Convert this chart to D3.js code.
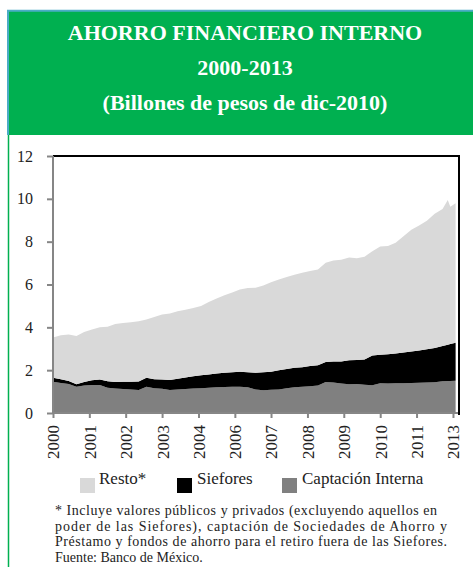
<!DOCTYPE html>
<html>
<head>
<meta charset="utf-8">
<title>Ahorro Financiero Interno</title>
<script src="https://d3js.org/d3.v7.min.js"></script>
<style>
body {
	margin: 0;
	background-color: white;
}
svg {
	display: block;
}
svg text {
	font-family: "Liberation Serif", "DejaVu Serif", serif !important;
}
.title {
	fill: white;
	font-weight: bold;
	font-size: 22px;
}
.axis text {
	font-size: 16px;
	fill: #222;
}
.axis path, .axis line {
	stroke: #868686;
	stroke-width: 2;
}
.legend {
	font-size: 17px;
	fill: #222;
}
.note {
	font-size: 14px;
	fill: #222;
}
</style>
</head>
<body>
<div id="graph"></div>
<script>
/* globals d3 */
(function() {
"use strict";

const titleLines = ["AHORRO FINANCIERO INTERNO", "2000-2013", "(Billones de pesos de dic-2010)"];

// fechas de lectura (aaaa-mm)
const months = [
	"2000-03", "2000-06", "2000-09", "2000-12", "2001-03", "2001-06", "2001-09", "2001-12", "2002-03", "2002-06",
	"2002-09", "2002-12", "2003-03", "2003-06", "2003-09", "2003-12", "2004-03", "2004-06", "2004-09", "2004-12",
	"2005-03", "2005-06", "2005-09", "2005-12", "2006-03", "2006-06", "2006-09", "2006-12", "2007-03", "2007-06",
	"2007-09", "2007-12", "2008-03", "2008-06", "2008-09", "2008-12", "2009-03", "2009-06", "2009-09", "2009-12",
	"2010-03", "2010-06", "2010-09", "2010-12", "2011-03", "2011-06", "2011-09", "2011-12", "2012-03", "2012-06",
	"2012-09", "2012-11", "2012-12", "2013-02"
];
const captacion = [
	1.46, 1.40, 1.35, 1.23, 1.28, 1.31, 1.31, 1.18, 1.14, 1.12,
	1.10, 1.07, 1.22, 1.15, 1.13, 1.07, 1.10, 1.12, 1.14, 1.16,
	1.18, 1.20, 1.21, 1.22, 1.23, 1.20, 1.10, 1.06, 1.08, 1.10,
	1.15, 1.20, 1.23, 1.25, 1.28, 1.45, 1.42, 1.38, 1.34, 1.35,
	1.32, 1.30, 1.39, 1.38, 1.39, 1.39, 1.40, 1.41, 1.42, 1.44,
	1.48, 1.49, 1.50, 1.51
];
const siefores = [
	0.19, 0.18, 0.15, 0.11, 0.17, 0.22, 0.26, 0.30, 0.31, 0.34,
	0.36, 0.40, 0.43, 0.43, 0.44, 0.47, 0.50, 0.54, 0.58, 0.60,
	0.62, 0.65, 0.67, 0.68, 0.70, 0.70, 0.78, 0.84, 0.85, 0.90,
	0.91, 0.91, 0.91, 0.94, 0.95, 0.93, 0.98, 1.02, 1.12, 1.12,
	1.18, 1.38, 1.33, 1.36, 1.39, 1.43, 1.47, 1.51, 1.56, 1.60,
	1.65, 1.70, 1.72, 1.77
];
const resto = [
	1.88, 2.05, 2.16, 2.26, 2.33, 2.37, 2.43, 2.55, 2.70, 2.74,
	2.78, 2.81, 2.71, 2.90, 3.03, 3.11, 3.15, 3.16, 3.18, 3.24,
	3.38, 3.50, 3.62, 3.73, 3.84, 3.94, 3.97, 4.05, 4.17, 4.23,
	4.29, 4.35, 4.41, 4.44, 4.47, 4.64, 4.72, 4.75, 4.80, 4.75,
	4.80, 4.87, 5.05, 5.06, 5.17, 5.43, 5.69, 5.83, 6.00, 6.26,
	6.39, 6.75, 6.41, 6.51
];

// etiquetas del eje x (cada 14 meses, como en el original)
const tickMonths = ["2000-03", "2001-05", "2002-07", "2003-09", "2004-11", "2006-01",
	"2007-03", "2008-05", "2009-07", "2010-09", "2011-11", "2013-01"];
const tickLabels = ["2000", "2001", "2002", "2003", "2004", "2006",
	"2007", "2008", "2009", "2010", "2011", "2013"];
const yTicks = [0, 2, 4, 6, 8, 10, 12];

const seriesKeys = ["captacion", "siefores", "resto"];
const seriesNames = {resto: "Resto*", siefores: "Siefores", captacion: "Captación Interna"};
const colors = {resto: "#d9d9d9", siefores: "#000000", captacion: "#808080"};

const noteLines = [
	"* Incluye valores públicos y privados  (excluyendo aquellos  en",
	"poder de las Siefores),  captación  de Sociedades de Ahorro  y",
	"Préstamo  y fondos de ahorro  para el retiro  fuera de las Siefores.",
	"Fuente: Banco de México."
];

function main()
{
	const width = 473, height = 567;
	const parse = d3.timeParse("%Y-%m");

	const data = months.map((m, i) => ({
		date: parse(m),
		captacion: captacion[i],
		siefores: siefores[i],
		resto: resto[i]
	}));

	const svg = d3.select("#graph")
		.append("svg")
			.attr("width", width)
			.attr("height", height);

	// cabecera verde
	svg.append("rect")
		.attr("x", 8).attr("y", 10)
		.attr("width", width - 8).attr("height", 125)
		.attr("fill", "#00b050");
	svg.append("path")
		.attr("d", "M8,135V10.8H473")
		.attr("fill", "none")
		.attr("stroke", "#4bacc6")
		.attr("stroke-width", 2);
	svg.append("line")
		.attr("x1", 8.5).attr("x2", 8.5)
		.attr("y1", 135).attr("y2", height)
		.attr("stroke", "#00b050")
		.attr("stroke-width", 1.5);

	svg.selectAll(".title")
		.data(titleLines)
		.join("text")
			.attr("class", "title")
			.attr("x", 245)
			.attr("y", (d, i) => 40 + i * 35)
			.attr("text-anchor", "middle")
			.text(d => d);

	const left = 53, right = 458, top = 156, bottom = 413;
	const xScale = d3.scaleTime([parse("2000-03"), parse("2013-03")], [left, right]);
	const yScale = d3.scaleLinear([0, 12], [bottom, top]);

	const stack = d3.stack().keys(seriesKeys);
	const layers = stack(data);

	const area = d3.area()
		.x(d => xScale(d.data.date))
		.y0(d => yScale(d[0]))
		.y1(d => yScale(d[1]));

	svg.append("g")
		.selectAll("path")
		.data(layers)
		.join("path")
			.attr("fill", d => colors[d.key])
			.attr("d", area);

	// marco negro arriba y a la derecha
	svg.append("path")
		.attr("d", "M" + left + "," + top + "H" + (right + 1) + "V" + (bottom + 2))
		.attr("fill", "none")
		.attr("stroke", "black")
		.attr("stroke-width", 2);

	const yAxis = d3.axisLeft(yScale)
		.tickValues(yTicks)
		.tickSize(6)
		.tickPadding(14);
	svg.append("g")
		.attr("class", "axis")
		.attr("transform", "translate(" + left + ",0)")
		.call(yAxis)
		.call(g => g.attr("font-family", null))
		.call(g => g.select(".domain").attr("d", "M0," + bottom + "V" + top));

	const xAxis = d3.axisBottom(xScale)
		.tickValues(tickMonths.map(parse))
		.tickFormat((d, i) => tickLabels[i])
		.tickSize(5)
		.tickSizeOuter(0);
	svg.append("g")
		.attr("class", "axis")
		.attr("transform", "translate(0," + bottom + ")")
		.call(xAxis)
		.call(g => g.attr("font-family", null))
		.call(g => g.select(".domain").attr("d", "M" + left + ",0H" + right))
		.selectAll("text")
			.attr("transform", "rotate(-90)")
			.attr("text-anchor", "end")
			.attr("x", -12)
			.attr("y", 0)
			.attr("dy", "0.35em")
			.style("font-size", "17px");

	// leyenda
	const legendItems = [
		{key: "resto", x: 80, tx: 99},
		{key: "siefores", x: 177, tx: 197},
		{key: "captacion", x: 282, tx: 302}
	];
	const lg = svg.append("g");
	lg.selectAll("rect")
		.data(legendItems)
		.join("rect")
			.attr("x", d => d.x)
			.attr("y", 478)
			.attr("width", 15)
			.attr("height", 15)
			.attr("fill", d => colors[d.key]);
	lg.selectAll("text")
		.data(legendItems)
		.join("text")
			.attr("class", "legend")
			.attr("x", d => d.tx)
			.attr("y", 484)
			.text(d => seriesNames[d.key]);

	// nota
	const noteWidths = [382, 392, 392, null];
	svg.selectAll(".note")
		.data(noteLines)
		.join("text")
			.attr("class", "note")
			.attr("x", 55)
			.attr("y", (d, i) => 515 + i * 15.5)
			.attr("textLength", (d, i) => noteWidths[i])
			.attr("lengthAdjust", "spacing")
			.text(d => d);
}
window.addEventListener("DOMContentLoaded", main);
})();
</script>
</body>
</html>
